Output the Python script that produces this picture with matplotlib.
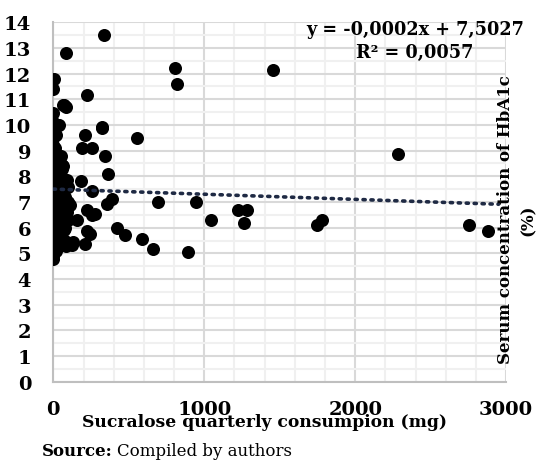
import numpy as np
import matplotlib.pyplot as plt
from matplotlib.ticker import MultipleLocator

# sucralose quarterly consumption (mg) and HbA1c (%)
consumption = [333, 84, 5, 0, 221, 66, 82, 0, 40, 320, 212, 556, 188, 254, 344, 364,
               66, 89, 181, 254, 387, 353, 695, 945, 1042, 1223, 1281, 1265, 1457,
               808, 819, 221, 255, 275, 159, 420, 1748, 1781, 2281, 2753, 2881, 475,
               585, 658, 890, 122, 210, 243, 221, 0, 78, 130, 60, 71, 325,
               # cluster near zero
               0, 0, 0, 0, 0, 0, 0, 0, 0, 0, 0, 0, 0, 0, 0, 0, 0, 0, 0, 0,
               0, 0, 0, 0, 0, 0, 0, 0, 0, 0, 0,
               15, 20, 12, 25, 18, 22, 10, 28, 15, 20, 25, 12, 18, 30,
               45, 50, 40, 55, 48, 42, 52, 45, 58, 50,
               80, 70, 100, 90, 110, 80, 100, 75, 95, 65, 85, 60]
hba1c = [13.5, 12.8, 11.8, 11.4, 11.18, 10.78, 10.7, 10.45, 9.98, 9.91, 9.59, 9.5,
         9.11, 9.11, 8.81, 8.1, 8.42, 7.84, 7.8, 7.41, 7.12, 6.93, 7.0, 7.0, 6.28,
         6.69, 6.69, 6.19, 12.12, 12.21, 11.59, 6.67, 6.5, 6.55, 6.28, 6.0, 6.09,
         6.31, 8.88, 6.09, 5.89, 5.7, 5.57, 5.18, 5.07, 5.31, 5.37, 5.76, 5.89,
         4.79, 7.78, 5.44, 8.45, 10.76, 9.88,
         4.9, 5.0, 5.2, 5.4, 5.5, 5.6, 5.7, 5.8, 5.9, 6.0, 6.1, 6.2, 6.3, 6.4,
         6.5, 6.6, 6.8, 7.0, 7.2, 7.4, 7.6, 7.8, 8.0, 8.2, 8.5, 8.7, 9.0, 9.2,
         9.5, 9.8, 10.1,
         5.1, 5.3, 5.6, 5.9, 6.2, 6.5, 6.9, 7.3, 7.7, 8.1, 8.6, 9.1, 9.6, 10.0,
         5.4, 5.8, 6.1, 6.4, 6.7, 7.0, 7.4, 7.9, 8.3, 8.8,
         5.5, 5.9, 6.3, 6.6, 6.9, 7.2, 7.6, 6.0, 7.0, 6.5, 5.3, 7.9]

slope = -0.0002
intercept = 7.5027

plt.rcParams['font.family'] = 'DejaVu Serif'
plt.rcParams['font.weight'] = 'bold'

fig = plt.figure(figsize=(5.39, 4.64), dpi=100)
ax = fig.add_axes([0.099, 0.175, 0.840, 0.775])

ax.scatter(consumption, hba1c, s=88, color='black', zorder=3, linewidths=0)

xt = np.array([0, 2950])
ax.plot(xt, slope*xt + intercept, linestyle=(0, (0.6, 1.6)), color='#1f2a44',
        linewidth=2.6, dash_capstyle='round', zorder=4)

ax.set_xlim(0, 3000)
ax.set_ylim(0, 14)
ax.xaxis.set_major_locator(MultipleLocator(1000))
ax.xaxis.set_minor_locator(MultipleLocator(200))
ax.yaxis.set_major_locator(MultipleLocator(1))
ax.yaxis.set_minor_locator(MultipleLocator(0.5))
ax.grid(which='major', color='#d9d9d9', linewidth=1.5, zorder=0)
ax.grid(which='minor', color='#f0f0f0', linewidth=1.5, zorder=0)
ax.set_axisbelow(True)
for s in ['top', 'right']:
    ax.spines[s].set_visible(False)
for s in ['left', 'bottom']:
    ax.spines[s].set_color('#bfbfbf')
    ax.spines[s].set_linewidth(1.5)
ax.tick_params(which='both', length=0)
ax.tick_params(axis='x', pad=13, labelsize=14)
ax.tick_params(axis='y', pad=16, labelsize=14)

fig.text(265/539, 1 - 423/464, 'Sucralose quarterly consumpion (mg)', ha='center',
         va='center', fontsize=12.3, fontweight='bold')
fig.text(415/539, 1 - 30/464, 'y = -0,0002x + 7,5027', ha='center', va='center',
         fontsize=12.7, fontweight='bold')
fig.text(415/539, 1 - 53/464, 'R² = 0,0057', ha='center', va='center',
         fontsize=12.7, fontweight='bold')
fig.text(505/539, 1 - 220/464, 'Serum concentration of HbA1c', rotation=90,
         ha='center', va='center', fontsize=12, fontweight='bold')
fig.text(528/539, 1 - 220/464, '(%)', rotation=90,
         ha='center', va='center', fontsize=12, fontweight='bold')
src = fig.text(42/539, 1 - 452/464, 'Source:', ha='left', va='center',
               fontsize=12, fontweight='bold')
fig.canvas.draw()
bb = src.get_window_extent().transformed(fig.transFigure.inverted())
fig.text(bb.x1 + 4/539, 1 - 452/464, 'Compiled by authors', ha='left', va='center',
         fontsize=12, fontweight='normal')

plt.savefig('out.png', dpi=100)
